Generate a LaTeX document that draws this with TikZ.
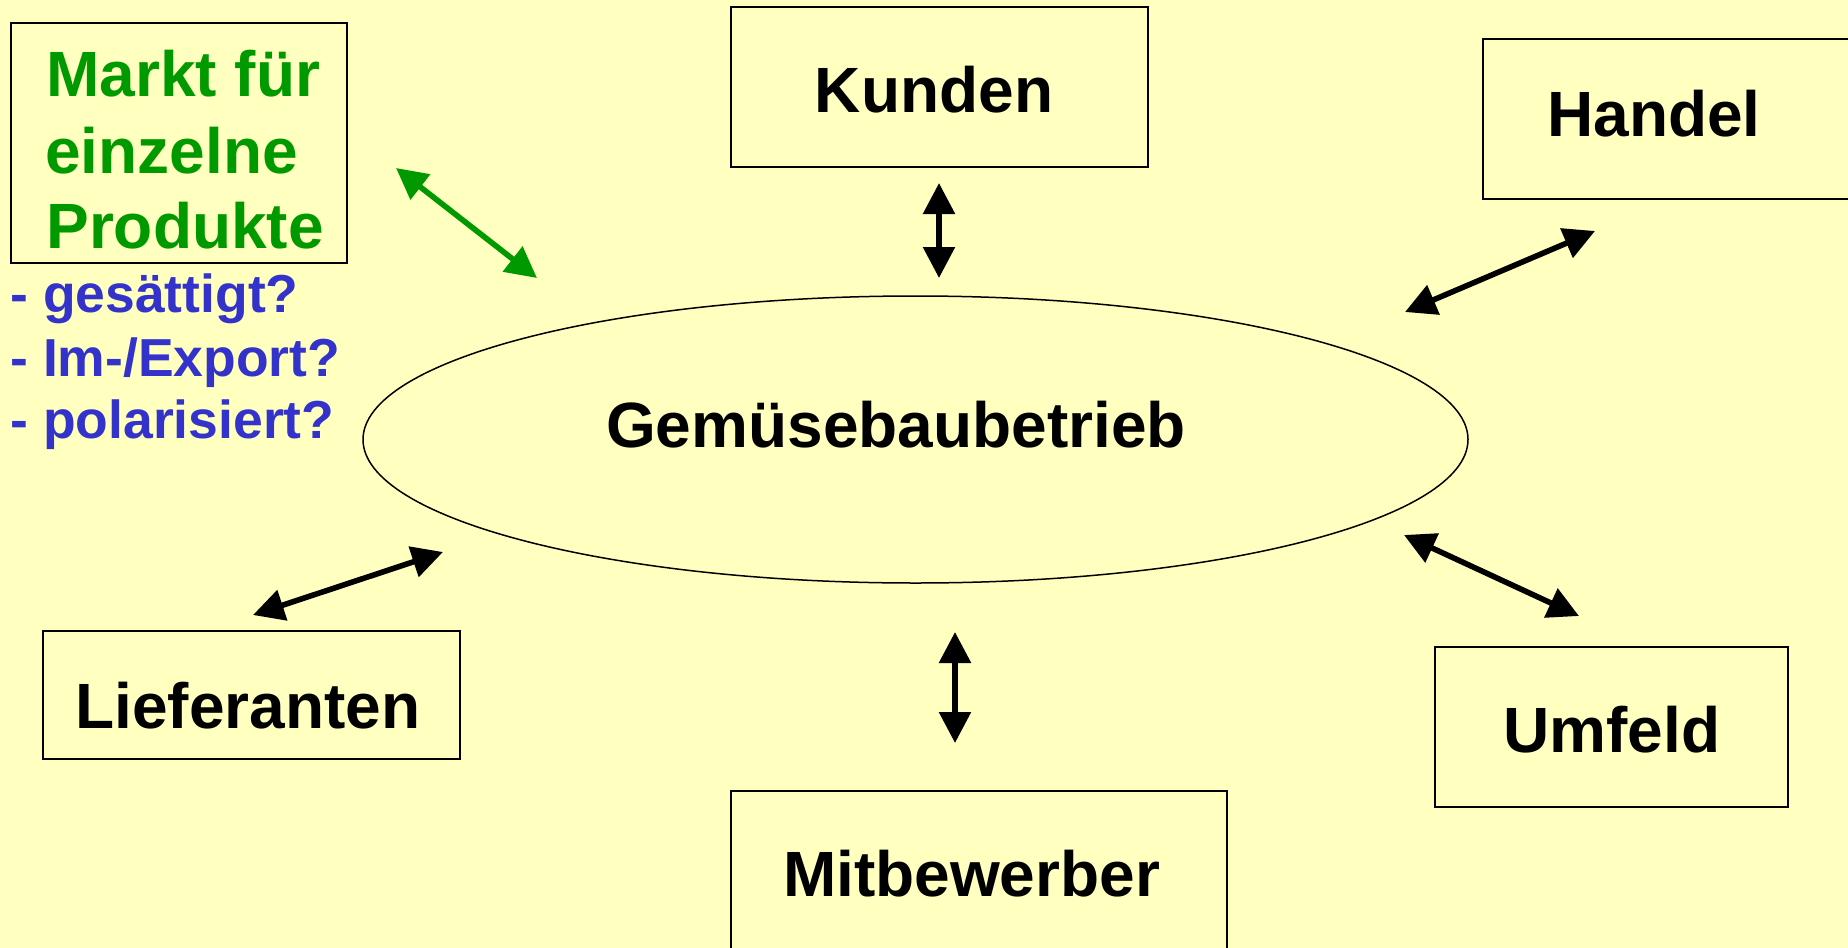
\documentclass[tikz,border=0pt]{standalone}
\usepackage{fontspec}
\setmainfont{Liberation Sans}
\usetikzlibrary{arrows.meta,shapes.geometric,fit}
\definecolor{bgyellow}{HTML}{FFFFC0}
\definecolor{mktgreen}{HTML}{009900}
\definecolor{qblue}{HTML}{3333CC}
\begin{document}
\begin{tikzpicture}[x=0.5pt,y=-0.5pt,
  box/.style={draw=black, line width=1pt, inner sep=0pt},
  lbl/.style={font=\fontsize{32}{38}\selectfont\bfseries, inner sep=0pt, anchor=base},
  mkt/.style={font=\fontsize{32}{38}\selectfont\bfseries, text=mktgreen, inner sep=0pt, anchor=base west},
  qst/.style={font=\fontsize{26.75}{31.5}\selectfont\bfseries, text=qblue, inner sep=0pt, anchor=base west},
  conn/.style={line width=2.8pt, {Triangle[length=15.5pt,width=15.5pt]}-{Triangle[length=15.5pt,width=15.5pt]}},
  gconn/.style={conn, draw=mktgreen, fill=mktgreen}]
\useasboundingbox[fill=bgyellow] (0,0) rectangle (1848,948);

% central firm
\node[draw, ellipse, line width=0.75pt, inner sep=0pt,
      minimum width=552.5pt, minimum height=143.5pt] (firm) at (915.5,439.5) {};
\node[lbl] (firmT) at (896,447) {Gemüsebaubetrieb};

% surrounding actors
\node[box, fit={(731,7) (1148,167)}] (kunden) {};
\node[lbl] (kundenT) at (934,112) {Kunden};

\node[box, fit={(1483,39) (1900,199)}] (handel) {};
\node[lbl] (handelT) at (1654,136) {Handel};

\node[box, fit={(43,631) (460,759)}] (liefer) {};
\node[lbl] (lieferT) at (248,728) {Lieferanten};

\node[box, fit={(1435,647) (1788,807)}] (umfeld) {};
\node[lbl] (umfeldT) at (1612,752) {Umfeld};

\node[box, fit={(731,791) (1227,1000)}] (mitbew) {};
\node[lbl] (mitbewT) at (971.5,896) {Mitbewerber};

% product market with open questions
\node[box, fit={(11,23) (347,263)}] (markt) {};
\node[mkt] (markt1) at (46,96) {Markt für};
\node[mkt] (markt2) at (45,173) {einzelne};
\node[mkt] (markt3) at (46,248) {Produkte};
\node[qst] (q1) at (10,312) {- gesättigt?};
\node[qst] (q2) at (10,376) {- Im-/Export?};
\node[qst] (q3) at (10,438) {- polarisiert?};

% arrow end points
\coordinate (gA) at (396,168);  \coordinate (gB) at (537,278);
\coordinate (kA) at (939,183);  \coordinate (kB) at (939,278);
\coordinate (hA) at (1405,312); \coordinate (hB) at (1595,231);
\coordinate (lA) at (253,615);  \coordinate (lB) at (443,552);
\coordinate (uA) at (1404,535); \coordinate (uB) at (1579,616);
\coordinate (mA) at (955,632);  \coordinate (mB) at (955,743);

% relations
\draw[gconn] (gA) -- (gB);
\draw[conn] (kA) -- (kB);
\draw[conn] (hA) -- (hB);
\draw[conn] (lA) -- (lB);
\draw[conn] (uA) -- (uB);
\draw[conn] (mA) -- (mB);
\end{tikzpicture}
\end{document}
